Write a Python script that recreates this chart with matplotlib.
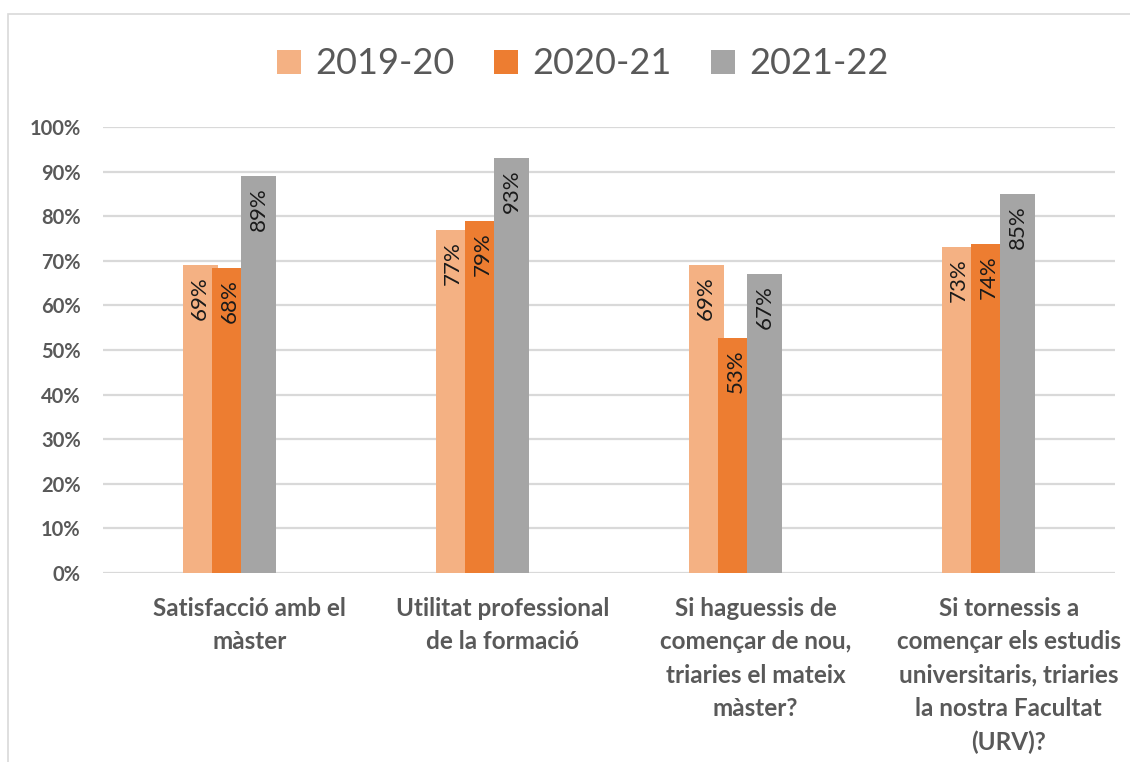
import matplotlib
matplotlib.use("Agg")
import matplotlib.pyplot as plt
from matplotlib.patches import Patch, Rectangle
import numpy as np

plt.rcParams["font.family"] = ["Lato", "DejaVu Sans"]

categories = [
    "Satisfacció amb el\nmàster",
    "Utilitat professional\nde la formació",
    "Si haguessis de\ncomençar de nou,\ntriaries el mateix\nmàster?",
    "Si tornessis a\ncomençar els estudis\nuniversitaris, triaries\nla nostra Facultat\n(URV)?",
]
series_names = ["2019-20", "2020-21", "2021-22"]
v2019 = [0.69, 0.77, 0.69, 0.73]
v2020 = [0.684, 0.79, 0.526, 0.737]
v2021 = [0.89, 0.93, 0.67, 0.85]
yticks = [0, 0.1, 0.2, 0.3, 0.4, 0.5, 0.6, 0.7, 0.8, 0.9, 1.0]

colors = ["#F4B183", "#ED7D31", "#A5A5A5"]
text_gray = "#595959"
grid_col = "#D9D9D9"

fig = plt.figure(figsize=(11.3, 7.62), dpi=100)
ax = fig.add_axes([103/1130, 1-573/762, (1115-103)/1130, (573-127)/762])

# chart border
fig.patches.append(Rectangle((8/1130, -0.05), 1.1, 1-14/762+0.05, transform=fig.transFigure,
                             fill=False, edgecolor=grid_col, linewidth=1.2, zorder=0))

x = np.arange(len(categories))
width = 0.138
step = 0.116
all_vals = [v2019, v2020, v2021]
for i, (vals, c, name) in enumerate(zip(all_vals, colors, series_names)):
    xs = x + (i - 1) * step
    ax.bar(xs, vals, width=width, color=c, zorder=2 + i, label=name)
    for xi, v in zip(xs, vals):
        ax.annotate(f"{round(v*100):.0f}%", (xi, v), xytext=(0, -8), textcoords="offset points",
                    rotation=90, ha="center", va="top", fontsize=16, color="#1a1a1a",
                    zorder=10)

ax.set_xlim(-0.5, 3.5)
ax.set_ylim(0, 1.0)
ax.set_yticks(yticks)
ax.set_yticklabels([f"{int(round(t*100))}%" for t in yticks],
                   fontsize=14.5, fontweight="bold", color=text_gray)
# category labels sit slightly right of the bar groups, as in the original
ax.set_xticks(x + 0.08)
ax.set_xticklabels(categories, fontsize=17.5, fontweight="bold", color=text_gray,
                   linespacing=1.55)
ax.tick_params(axis="both", length=0)
ax.tick_params(axis="y", pad=16)
ax.tick_params(axis="x", pad=17)
for s in ax.spines.values():
    s.set_visible(False)
ax.yaxis.grid(True, color=grid_col, linewidth=1.6, zorder=0)
ax.set_axisbelow(True)

handles = [Patch(facecolor=c) for c in colors]
fig.legend(handles, series_names, loc="center", bbox_to_anchor=(583/1130, 1-64/762), ncol=3,
           frameon=False, fontsize=26, handlelength=0.65, handleheight=0.65,
           handletextpad=0.4, columnspacing=1.1, labelcolor=text_gray)

fig.savefig("out.png", dpi=100, facecolor="white")
